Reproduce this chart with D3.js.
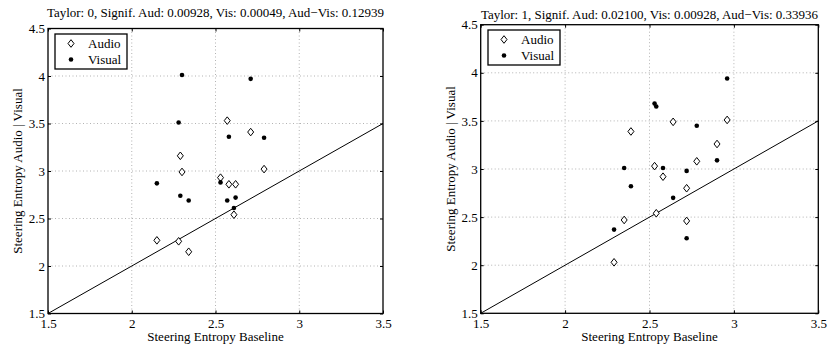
<!DOCTYPE html>
<html>
<head>
<meta charset="utf-8">
<script src="https://cdn.jsdelivr.net/npm/d3@7"></script>
<style>
    body { margin: 0; background: white; }
    svg text { font-family: "Liberation Serif", "Times New Roman", "DejaVu Serif", serif !important; fill: black; }
</style>
</head>
<body>
<div id="chart"></div>
<script>
/* * * * * * * * * * * * * * * * *
*     STEERING ENTROPY SCATTER    *
* * * * * * * * * * * * * * * * */

// Axis ticks (both panels share them)
const xTicks = [1.5, 2, 2.5, 3, 3.5];
const yTicks = [1.5, 2, 2.5, 3, 3.5, 4, 4.5];

// Panel titles
const titles = [
    "Taylor: 0, Signif. Aud: 0.00928, Vis: 0.00049, Aud\u2212Vis: 0.12939",
    "Taylor: 1, Signif. Aud: 0.02100, Vis: 0.00928, Aud\u2212Vis: 0.33936"
];

// [baseline, condition] pairs, Taylor 0
const audio0 = [
    [2.57, 3.53], [2.71, 3.41], [2.29, 3.16], [2.30, 2.99], [2.79, 3.02], [2.53, 2.93],
    [2.58, 2.86], [2.62, 2.86], [2.61, 2.54], [2.15, 2.27], [2.28, 2.26], [2.34, 2.15]
];
const visual0 = [
    [2.30, 4.01], [2.71, 3.97], [2.28, 3.51], [2.58, 3.36], [2.79, 3.35], [2.15, 2.87],
    [2.53, 2.88], [2.29, 2.74], [2.34, 2.69], [2.57, 2.69], [2.62, 2.72], [2.61, 2.61]
];

// [baseline, condition] pairs, Taylor 1
const audio1 = [
    [2.64, 3.49], [2.96, 3.51], [2.39, 3.39], [2.90, 3.26], [2.78, 3.08], [2.53, 3.03],
    [2.58, 2.92], [2.72, 2.80], [2.54, 2.54], [2.35, 2.47], [2.72, 2.46], [2.29, 2.03]
];
const visual1 = [
    [2.96, 3.94], [2.53, 3.68], [2.54, 3.65], [2.78, 3.45], [2.90, 3.09], [2.35, 3.01],
    [2.58, 3.01], [2.72, 2.98], [2.39, 2.82], [2.64, 2.70], [2.29, 2.37], [2.72, 2.28]
];

// Reference line y = x
const diagonal = [[1.5, 1.5], [3.5, 3.5]];

const svg = d3.select("#chart")
    .append("svg")
    .attr("width", 835)
    .attr("height", 349);

class ScatterPanel {
    constructor(svg, opts) {
        this.svg = svg;
        this.opts = opts;
        this.initVis();
    }

    initVis() {
        const vis = this;
        const o = vis.opts;

        vis.x = d3.scaleLinear().domain([1.5, 3.5]).range([o.left, o.right]);
        vis.y = d3.scaleLinear().domain([1.5, 4.5]).range([o.bottom, o.top]);

        vis.g = vis.svg.append("g");

        // Dotted grid
        vis.g.selectAll(".gx")
            .data(xTicks.slice(1, -1))
            .enter().append("line")
            .attr("x1", d => vis.x(d)).attr("x2", d => vis.x(d))
            .attr("y1", o.top).attr("y2", o.bottom)
            .attr("stroke", "#a0a0a0")
            .attr("stroke-width", 0.8)
            .attr("stroke-dasharray", "1,2.5");

        vis.g.selectAll(".gy")
            .data(yTicks.slice(1, -1))
            .enter().append("line")
            .attr("y1", d => vis.y(d)).attr("y2", d => vis.y(d))
            .attr("x1", o.left).attr("x2", o.right)
            .attr("stroke", "#a0a0a0")
            .attr("stroke-width", 0.8)
            .attr("stroke-dasharray", "1,2.5");

        // Axes (ticks inward, mirrored)
        const fmt = d => d3.format("")(d);
        vis.g.append("g")
            .attr("transform", `translate(0,${o.bottom})`)
            .call(d3.axisBottom(vis.x).tickValues(xTicks).tickSize(-3).tickPadding(5).tickFormat(fmt));
        vis.g.append("g")
            .attr("transform", `translate(0,${o.top})`)
            .call(d3.axisTop(vis.x).tickValues(xTicks).tickSize(-3).tickFormat(""));
        vis.g.append("g")
            .attr("transform", `translate(${o.left},0)`)
            .call(d3.axisLeft(vis.y).tickValues(yTicks).tickSize(-3).tickPadding(3).tickFormat(fmt));
        vis.g.append("g")
            .attr("transform", `translate(${o.right},0)`)
            .call(d3.axisRight(vis.y).tickValues(yTicks).tickSize(-3).tickFormat(""));

        vis.g.selectAll(".domain").remove();
        vis.g.selectAll(".tick line").attr("stroke", "black");
        vis.g.selectAll(".tick text")
            .attr("font-size", 13)
            .attr("fill", "black");

        // Box
        vis.g.append("rect")
            .attr("x", o.left).attr("y", o.top)
            .attr("width", o.right - o.left)
            .attr("height", o.bottom - o.top)
            .attr("fill", "none")
            .attr("stroke", "black")
            .attr("stroke-width", 1.3);

        // y = x line
        vis.g.append("path")
            .datum(diagonal)
            .attr("d", d3.line().x(d => vis.x(d[0])).y(d => vis.y(d[1])))
            .attr("fill", "none")
            .attr("stroke", "black")
            .attr("stroke-width", 1);

        // Markers
        const diamond = (cx, cy) => `M${cx},${cy - 3.8}L${cx + 3},${cy}L${cx},${cy + 3.8}L${cx - 3},${cy}Z`;

        vis.g.selectAll(".audio")
            .data(o.audio)
            .enter().append("path")
            .attr("d", d => diamond(vis.x(d[0]), vis.y(d[1])))
            .attr("fill", "white")
            .attr("stroke", "black")
            .attr("stroke-width", 1);

        vis.g.selectAll(".visual")
            .data(o.visual)
            .enter().append("circle")
            .attr("cx", d => vis.x(d[0]))
            .attr("cy", d => vis.y(d[1]))
            .attr("r", 2.3)
            .attr("fill", "black");

        // Title and labels
        vis.g.append("text")
            .attr("x", (o.left + o.right) / 2)
            .attr("y", o.titleY)
            .attr("text-anchor", "middle")
            .attr("font-size", 13)
            .text(o.title);

        vis.g.append("text")
            .attr("x", (o.left + o.right) / 2)
            .attr("y", 341)
            .attr("text-anchor", "middle")
            .attr("font-size", 13)
            .text("Steering Entropy Baseline");

        vis.g.append("text")
            .attr("transform", `translate(${o.left - 26},${(o.top + o.bottom) / 2}) rotate(-90)`)
            .attr("text-anchor", "middle")
            .attr("font-size", 13)
            .text("Steering Entropy Audio | Visual");

        // Legend
        const lg = vis.g.append("g")
            .attr("transform", `translate(${o.legendX},${o.legendY})`);

        lg.append("rect")
            .attr("width", 72).attr("height", 35)
            .attr("fill", "white")
            .attr("stroke", "black")
            .attr("stroke-width", 1.3);

        lg.append("path")
            .attr("d", diamond(16, 9.5))
            .attr("fill", "white")
            .attr("stroke", "black");
        lg.append("circle")
            .attr("cx", 16).attr("cy", 25.5).attr("r", 2.3)
            .attr("fill", "black");

        lg.append("text").attr("x", 33).attr("y", 14).attr("font-size", 13).text("Audio");
        lg.append("text").attr("x", 33).attr("y", 30).attr("font-size", 13).text("Visual");
    }
}

new ScatterPanel(svg, {
    left: 48, right: 383, top: 28.5, bottom: 313.5,
    titleY: 17, title: titles[0],
    legendX: 55, legendY: 34,
    audio: audio0, visual: visual0
});

new ScatterPanel(svg, {
    left: 480.7, right: 818.3, top: 24.7, bottom: 313.3,
    titleY: 19, title: titles[1],
    legendX: 488, legendY: 30,
    audio: audio1, visual: visual1
});
</script>
</body>
</html>
